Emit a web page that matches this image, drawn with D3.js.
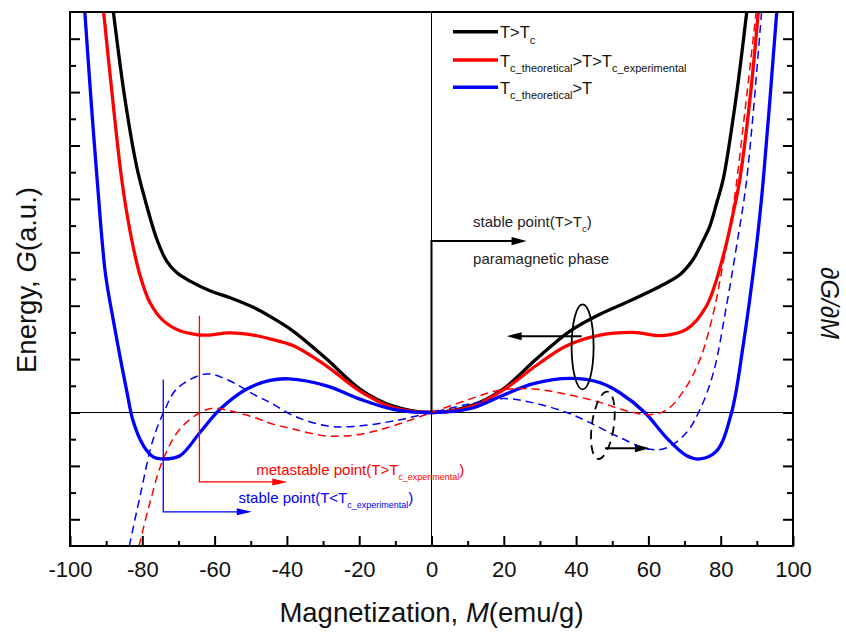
<!DOCTYPE html>
<html>
<head>
<meta charset="utf-8">
<script src="https://cdn.jsdelivr.net/npm/d3@7"></script>
<style>
  body { margin: 0; background: #fff; }
  svg { display: block; }
  text { font-family: "Liberation Sans", Arial, Helvetica, sans-serif; }
</style>
</head>
<body>
<svg id="chart" width="846" height="633"></svg>
<script>
// Free energy G(M) for three temperature regimes, [M (emu/g), G (a.u.)]
const energyAboveTc = [
  [-88.0, 7.5], [-84.8, 5.87], [-81.6, 4.62], [-79.3, 4.00], [-76.0, 3.25], [-73.3, 2.84],
  [-70.5, 2.62], [-66.8, 2.46], [-61.3, 2.28], [-55.7, 2.15], [-49.3, 1.97], [-44.7, 1.80],
  [-38.2, 1.52], [-29.0, 1.00], [-19.8, 0.44], [-10.6, 0.12], [0, 0], [10.6, 0.12],
  [19.8, 0.44], [29.0, 1.00], [38.2, 1.52], [46.6, 1.84], [55.8, 2.12], [65.1, 2.43],
  [69.0, 2.60], [72.4, 2.87], [75.0, 3.20], [77.0, 3.49], [79.0, 3.95], [80.7, 4.37],
  [84.2, 5.87], [87.2, 7.5]
];
const energyBetweenTc = [
  [-90.7, 7.5], [-88.2, 5.87], [-85.7, 4.37], [-83.4, 3.40], [-80.6, 2.56], [-77.9, 2.06],
  [-74.2, 1.72], [-69.6, 1.53], [-65.0, 1.46], [-62.0, 1.45], [-56.0, 1.49], [-50.0, 1.46],
  [-44.7, 1.38], [-38.2, 1.25], [-29.0, 0.87], [-19.8, 0.40], [-10.6, 0.09], [0, 0],
  [10.6, 0.10], [19.8, 0.42], [29.0, 0.88], [37.4, 1.25], [46.6, 1.45], [55.8, 1.50],
  [64.0, 1.44], [70.6, 1.56], [76.1, 2.00], [80.7, 2.93], [83.5, 3.75], [85.3, 4.37],
  [88.1, 5.87], [90.4, 7.5]
];
const energyBelowTc = [
  [-95.9, 7.5], [-94.2, 5.87], [-92.5, 4.37], [-90.2, 2.60], [-88.0, 1.72], [-86.2, 1.06],
  [-84.3, 0.40], [-82.5, -0.17], [-79.7, -0.62], [-77.0, -0.83], [-74.5, -0.87], [-69.6, -0.81],
  [-64.0, -0.37], [-58.5, 0.06], [-51.1, 0.44], [-44.7, 0.60], [-39.5, 0.63], [-29.0, 0.50],
  [-19.8, 0.25], [-10.6, 0.06], [0, 0], [10.6, 0.07], [19.0, 0.30], [28.2, 0.54],
  [38.5, 0.64], [46.6, 0.56], [52.1, 0.37], [59.0, 0.0], [65.1, -0.48], [70.6, -0.81],
  [74.3, -0.87], [78.9, -0.72], [83.0, 0], [86.2, 1.25], [89.9, 3.12], [91.8, 4.37],
  [95.5, 7.5]
];

// Derivative dG/dM (right axis), [M, dG/dM]
const slopeBetweenTc = [
  [-80.9, -2.5], [-77.9, -1.69], [-74.2, -0.87], [-69.6, -0.31], [-64.0, 0.0], [-60.5, 0.08],
  [-55.0, 0.02], [-47.4, -0.13], [-44.7, -0.20], [-38.2, -0.31], [-29.0, -0.44], [-19.8, -0.41],
  [-10.6, -0.25], [0, 0], [10.6, 0.25], [19.0, 0.42], [28.2, 0.44], [37.4, 0.34],
  [46.6, 0.19], [54.0, 0.03], [60.4, -0.04], [65.1, 0.05], [69.7, 0.40], [74.3, 1.00],
  [78.0, 1.87], [80.7, 2.81], [83.5, 3.87], [86.8, 5.70], [89.8, 7.5]
];
const slopeBelowTc = [
  [-83.6, -2.5], [-80.6, -1.56], [-77.0, -0.50], [-73.7, 0.06], [-70.5, 0.44], [-62.5, 0.72],
  [-56.7, 0.62], [-48.4, 0.31], [-44.7, 0.19], [-38.2, -0.06], [-29.0, -0.25], [-21.6, -0.26],
  [-10.6, -0.16], [0, 0], [10.6, 0.16], [20.0, 0.26], [28.2, 0.18], [37.4, 0.0],
  [43.8, -0.19], [51.2, -0.44], [60.4, -0.69], [65.1, -0.66], [70.6, -0.37], [74.3, 0.06],
  [78.0, 0.75], [81.6, 2.00], [84.4, 3.12], [87.2, 4.37], [91.3, 7.5]
];

// Axis ticks
const xMajorTicks = [-100, -80, -60, -40, -20, 0, 20, 40, 60, 80, 100];
const xMinorTicks = [-90, -70, -50, -30, -10, 10, 30, 50, 70, 90];
const yMajorTicks = [-2, -1, 0, 1, 2, 3, 4, 5, 6, 7];
const yMinorTicks = [-1.5, -0.5, 0.5, 1.5, 2.5, 3.5, 4.5, 5.5, 6.5];

const RED = "#ff0000", BLUE = "#0000ff", BLACK = "#000000";

const svg = d3.select("#chart");
const plotLeft = 70, plotRight = 793, plotTop = 12, plotBottom = 546;

const x = d3.scaleLinear().domain([-100, 100]).range([plotLeft, plotRight]);
const y = d3.scaleLinear().domain([-2.5, 7.5]).range([plotBottom, plotTop]);

svg.append("defs").append("clipPath").attr("id", "plotClip")
  .append("rect").attr("x", plotLeft).attr("y", plotTop)
  .attr("width", plotRight - plotLeft).attr("height", plotBottom - plotTop);

// zero reference lines
svg.append("line").attr("x1", plotLeft).attr("x2", plotRight).attr("y1", y(0)).attr("y2", y(0))
  .attr("stroke", "#000").attr("stroke-width", 1);
svg.append("line").attr("x1", x(0)).attr("x2", x(0)).attr("y1", plotTop).attr("y2", plotBottom)
  .attr("stroke", "#000").attr("stroke-width", 1);

const line = d3.line()
  .x(d => x(d[0])).y(d => y(d[1]))
  .curve(d3.curveCatmullRom.alpha(0.5));

const plot = svg.append("g").attr("clip-path", "url(#plotClip)");

const solidSeries = [
  { data: energyAboveTc, color: BLACK },
  { data: energyBetweenTc, color: RED },
  { data: energyBelowTc, color: BLUE }
];
solidSeries.forEach(s => {
  plot.append("path").datum(s.data).attr("d", line)
    .attr("fill", "none").attr("stroke", s.color).attr("stroke-width", 3.3)
    .attr("stroke-linejoin", "round");
});

const dashedSeries = [
  { data: slopeBetweenTc, color: RED },
  { data: slopeBelowTc, color: BLUE }
];
dashedSeries.forEach(s => {
  plot.append("path").datum(s.data).attr("d", line)
    .attr("fill", "none").attr("stroke", s.color).attr("stroke-width", 1.5)
    .attr("stroke-dasharray", "8,5");
});

// axes with inward ticks
const axes = svg.append("g").attr("class", "axes");
function styleAxis(g) {
  g.select(".domain").remove();
  g.selectAll(".tick line").attr("stroke", "#000").attr("stroke-width", 2);
}
function noLabels(g) {
  g.selectAll(".tick text").remove();
}
axes.append("g").attr("transform", `translate(0,${plotBottom})`)
  .call(d3.axisBottom(x).tickValues(xMajorTicks).tickSize(-10).tickPadding(15).tickFormat(d => String(d)))
  .call(styleAxis)
  .call(g => g.selectAll("text").attr("font-size", 22).attr("fill", "#111")
    .attr("font-family", "'Liberation Sans', Arial, sans-serif"));
axes.append("g").attr("transform", `translate(0,${plotBottom})`)
  .call(d3.axisBottom(x).tickValues(xMinorTicks).tickSize(-5))
  .call(styleAxis).call(noLabels);
axes.append("g").attr("transform", `translate(${plotLeft},0)`)
  .call(d3.axisLeft(y).tickValues(yMajorTicks).tickSize(-10))
  .call(styleAxis).call(noLabels);
axes.append("g").attr("transform", `translate(${plotLeft},0)`)
  .call(d3.axisLeft(y).tickValues(yMinorTicks).tickSize(-6))
  .call(styleAxis).call(noLabels);
axes.append("g").attr("transform", `translate(${plotRight},0)`)
  .call(d3.axisRight(y).tickValues(yMajorTicks).tickSize(-10))
  .call(styleAxis).call(noLabels);
axes.append("g").attr("transform", `translate(${plotRight},0)`)
  .call(d3.axisRight(y).tickValues(yMinorTicks).tickSize(-6))
  .call(styleAxis).call(noLabels);

// frame
svg.append("rect").attr("x", plotLeft).attr("y", plotTop)
  .attr("width", plotRight - plotLeft).attr("height", plotBottom - plotTop)
  .attr("fill", "none").attr("stroke", "#000").attr("stroke-width", 2);

// axis titles
const xTitle = svg.append("text").attr("x", (plotLeft + plotRight) / 2).attr("y", 622)
  .attr("text-anchor", "middle").attr("font-size", 27.5).attr("fill", "#111");
xTitle.append("tspan").text("Magnetization, ");
xTitle.append("tspan").attr("font-style", "italic").text("M");
xTitle.append("tspan").text("(emu/g)");

const yTitle = svg.append("text").attr("transform", "translate(36,280) rotate(-90)")
  .attr("text-anchor", "middle").attr("font-size", 27.5).attr("fill", "#111");
yTitle.append("tspan").text("Energy, ");
yTitle.append("tspan").attr("font-style", "italic").text("G");
yTitle.append("tspan").text("(a.u.)");

svg.append("text").attr("transform", "translate(821,303) rotate(90)")
  .attr("text-anchor", "middle").attr("font-size", 25).attr("font-style", "italic")
  .attr("fill", "#111").text("\u2202G/\u2202M");

// text with subscripts: each part is a tspan, subscripts shifted down
function richText(px, py, parts, size, subSize, color) {
  const t = svg.append("text").attr("x", px).attr("y", py)
    .attr("font-size", size).attr("fill", color);
  const shift = size * 0.32;
  let lowered = false;
  parts.forEach(p => {
    const span = t.append("tspan").text(p.t);
    if (p.sub) {
      span.attr("font-size", subSize);
      if (!lowered) span.attr("dy", shift);
      lowered = true;
    } else if (lowered) {
      span.attr("dy", -shift);
      lowered = false;
    }
  });
  return t;
}

// legend
const legendRows = [
  { color: BLACK, ly: 31.7, parts: [{ t: "T>T" }, { t: "c", sub: true }] },
  { color: RED, ly: 60, parts: [{ t: "T" }, { t: "c_theoretical", sub: true }, { t: ">T>T" }, { t: "c_experimental", sub: true }] },
  { color: BLUE, ly: 87.3, parts: [{ t: "T" }, { t: "c_theoretical", sub: true }, { t: ">T" }] }
];
legendRows.forEach(r => {
  svg.append("line").attr("x1", 453).attr("x2", 498).attr("y1", r.ly).attr("y2", r.ly)
    .attr("stroke", r.color).attr("stroke-width", 3.5);
  richText(500, r.ly + 6.6, r.parts, 16.5, 11, "#111");
});

// arrow helper: polyline with filled head at the last point
function arrow(points, color, width, headLen, headHalf) {
  const n = points.length;
  const [x1, y1] = points[n - 2], [x2, y2] = points[n - 1];
  const ang = Math.atan2(y2 - y1, x2 - x1);
  const bx = x2 - headLen * Math.cos(ang), by = y2 - headLen * Math.sin(ang);
  const pts = points.slice(0, n - 1).concat([[bx + Math.cos(ang), by + Math.sin(ang)]]);
  svg.append("path").attr("d", d3.line()(pts))
    .attr("fill", "none").attr("stroke", color).attr("stroke-width", width);
  const ox = -Math.sin(ang) * headHalf, oy = Math.cos(ang) * headHalf;
  svg.append("path")
    .attr("d", `M${x2},${y2}L${bx + ox},${by + oy}L${bx - ox},${by - oy}Z`)
    .attr("fill", color);
}

// paramagnetic stable point
arrow([[x(0), y(0)], [x(0), y(3.21)], [x(26.3), y(3.21)]], BLACK, 2, 15, 4.2);
richText(x(11.5), y(3.47), [{ t: "stable point(T>T" }, { t: "c", sub: true }, { t: ")" }], 15, 9.5, "#222");
svg.append("text").attr("x", x(11.5)).attr("y", y(2.78)).attr("font-size", 15)
  .attr("fill", "#222").text("paramagnetic phase");

// metastable point (red) and stable point (blue)
arrow([[x(-64.2), y(1.81)], [x(-64.2), y(-1.30)], [x(-39.9), y(-1.30)]], RED, 1.3, 15, 3.5);
richText(x(-48.5), y(-1.17), [{ t: "metastable point(T>T" }, { t: "c_experimental", sub: true }, { t: ")" }], 15, 9, RED);

arrow([[x(-74.2), y(0.62)], [x(-74.2), y(-1.86)], [x(-49.7), y(-1.86)]], BLUE, 1.3, 15, 3.5);
richText(x(-53.4), y(-1.69), [{ t: "stable point(T<T" }, { t: "c_experimental", sub: true }, { t: ")" }], 15, 9, BLUE);

// G-axis marker: ellipse and arrow pointing left
svg.append("ellipse").attr("cx", x(41.8)).attr("cy", y(1.23)).attr("rx", 11).attr("ry", 42.5)
  .attr("fill", "none").attr("stroke", BLACK).attr("stroke-width", 1.8);
arrow([[x(41.5), y(1.43)], [x(20.8), y(1.43)]], BLACK, 2, 15, 4);

// dG/dM marker: dashed ellipse and arrow pointing right
svg.append("ellipse").attr("transform", `translate(${x(47.4)},${y(-0.24)}) rotate(8)`)
  .attr("rx", 11).attr("ry", 34)
  .attr("fill", "none").attr("stroke", BLACK).attr("stroke-width", 1.8)
  .attr("stroke-dasharray", "9,6");
arrow([[x(48.0), y(-0.67)], [x(60.4), y(-0.67)]], BLACK, 2, 15, 4);
</script>
</body>
</html>
